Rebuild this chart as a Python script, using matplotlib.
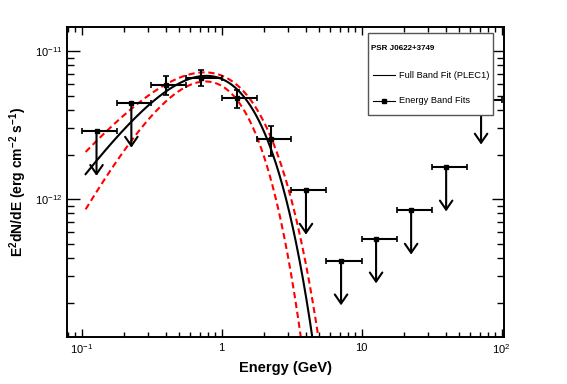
import numpy as np
import matplotlib
matplotlib.use("Agg")
import matplotlib.pyplot as plt
from matplotlib.patches import Rectangle
from matplotlib.lines import Line2D
from matplotlib.ticker import LogLocator, NullFormatter, FixedLocator, FixedFormatter

plt.rcParams['font.family'] = ['Liberation Sans', 'DejaVu Sans']
plt.rcParams['mathtext.fontset'] = 'custom'
plt.rcParams['mathtext.rm'] = 'Liberation Sans'
plt.rcParams['mathtext.it'] = 'Liberation Sans:italic'
plt.rcParams['mathtext.bf'] = 'Liberation Sans:bold'

# energy bands (GeV) and band fluxes E^2 dN/dE (erg cm^-2 s^-1)
band_edges = [0.1, 0.178, 0.316, 0.562, 1.0, 1.78, 3.16, 5.62, 10.0, 17.8, 31.6, 56.2, 100.0]
band_energy = [0.128, 0.227, 0.402, 0.714, 1.28, 2.26, 4.01, 7.14, 12.7, 22.6, 40.2, 71.4]
band_flux = [2.87e-12, 4.45e-12, 5.91e-12, 6.62e-12, 4.79e-12, 2.54e-12,
             1.15e-12, 3.83e-13, 5.39e-13, 8.43e-13, 1.65e-12, 4.67e-12]
band_err = [0, 0, 0.87e-12, 0.80e-12, 0.67e-12, 0.60e-12, 0, 0, 0, 0, 0, 0]
upper_limit = [True, True, False, False, False, False, True, True, True, True, True, True]

# full band PLEC1 fit: E^2 dN/dE = K * E^(2 - gamma) * exp(-E / Ecut), and 1 sigma band
fit_K, fit_gamma, fit_ecut = 3.75e-11, 0.636, 0.570
hi_K, hi_gamma, hi_ecut = 3.06e-11, 0.869, 0.667
lo_K, lo_gamma, lo_ecut = 5.96e-11, 0.211, 0.430
fit_emin, fit_emax = 0.107, 100.0

source_name = "PSR J0622+3749"


def plec1(e, k, gamma, ecut):
    return k * e ** (2 - gamma) * np.exp(-e / ecut)


fig = plt.figure(figsize=(5.67, 3.84), dpi=100)
ax = fig.add_axes([0.119, 0.1224, 0.770, 0.808])
ax.set_xscale('log')
ax.set_yscale('log')
ax.set_xlim(0.0794, 104.2)
ax.set_ylim(1.17e-13, 1.46e-11)

# model curves
e_model = np.logspace(np.log10(fit_emin), np.log10(fit_emax), 600)
ax.plot(e_model, plec1(e_model, fit_K, fit_gamma, fit_ecut), color='black', lw=1.5, zorder=3)
ax.plot(e_model, plec1(e_model, hi_K, hi_gamma, hi_ecut), color='#ff0000', lw=1.5,
        dashes=(3, 1.8), zorder=2)
ax.plot(e_model, plec1(e_model, lo_K, lo_gamma, lo_ecut), color='#ff0000', lw=1.5,
        dashes=(3, 1.8), zorder=2)

# band points
energy = np.array(band_energy)
flux = np.array(band_flux)
err = np.array(band_err)
edges = np.array(band_edges)
ul = np.array(upper_limit)
xerr = np.vstack([energy - edges[:-1], edges[1:] - energy])

det = ~ul
ax.errorbar(energy[det], flux[det], xerr=xerr[:, det], yerr=err[det], fmt='s', ms=3,
            color='black', lw=1.5, capsize=2, capthick=1.2, zorder=4)
ax.errorbar(energy[ul], flux[ul], xerr=xerr[:, ul], fmt='s', ms=3,
            color='black', lw=1.5, capsize=2, capthick=1.2, zorder=4)
for e, f in zip(energy[ul], flux[ul]):
    ax.annotate('', xy=(e, f / 2), xytext=(e, f),
                arrowprops=dict(arrowstyle='->,head_length=0.65,head_width=0.45',
                                lw=1.5, color='black', shrinkA=0, shrinkB=0), zorder=4)

# axes styling (ROOT-like)
for s in ax.spines.values():
    s.set_linewidth(1.4)
ax.xaxis.set_major_locator(FixedLocator([0.1, 1, 10, 100]))
ax.xaxis.set_major_formatter(FixedFormatter(['$10^{-1}$', '1', '10', '$10^{2}$']))
ax.xaxis.set_minor_locator(LogLocator(base=10, subs=np.arange(2, 10), numticks=20))
ax.xaxis.set_minor_formatter(NullFormatter())
ax.yaxis.set_major_locator(FixedLocator([1e-12, 1e-11]))
ax.yaxis.set_major_formatter(FixedFormatter(['$10^{-12}$', '$10^{-11}$']))
ax.yaxis.set_minor_locator(LogLocator(base=10, subs=np.arange(2, 10), numticks=20))
ax.yaxis.set_minor_formatter(NullFormatter())
ax.tick_params(which='both', direction='in', top=True, right=True, width=1.0, labelsize=8)
ax.tick_params(axis='x', which='major', length=6, pad=4)
ax.tick_params(axis='x', which='minor', length=3.5)
ax.tick_params(axis='y', which='major', length=9, pad=4)
ax.tick_params(axis='y', which='minor', length=4.8)

ax.set_xlabel('Energy (GeV)', fontsize=10.5, fontweight='bold', labelpad=3)
ax.set_ylabel(r'$\mathbf{E^{2}dN/dE\ (erg\ cm^{-2}\ s^{-1})}$', fontsize=10)
ax.yaxis.set_label_coords(-0.088, 0.5)

# legend box
box = Rectangle((0.689, 0.7154), 0.2865, 0.2633, transform=ax.transAxes, facecolor='white',
                edgecolor='#555555', lw=1.0, zorder=10)
ax.add_patch(box)
ax.text(0.695, 0.93, source_name, transform=ax.transAxes, fontsize=5.8, fontweight='bold',
        va='center', ha='left', zorder=11)
ax.add_line(Line2D([0.700, 0.750], [0.844, 0.844], transform=ax.transAxes, color='black',
                   lw=0.8, zorder=11))
ax.text(0.759, 0.844, 'Full Band Fit (PLEC1)', transform=ax.transAxes, fontsize=6.7,
        va='center', ha='left', zorder=11)
ax.add_line(Line2D([0.700, 0.750], [0.762, 0.762], transform=ax.transAxes, color='black',
                   lw=0.8, zorder=11))
ax.add_line(Line2D([0.725], [0.762], transform=ax.transAxes, color='black',
                   marker='s', ms=3.5, lw=0, zorder=11))
ax.text(0.759, 0.762, 'Energy Band Fits', transform=ax.transAxes, fontsize=6.7,
        va='center', ha='left', zorder=11)

fig.savefig('out.png', dpi=100)
